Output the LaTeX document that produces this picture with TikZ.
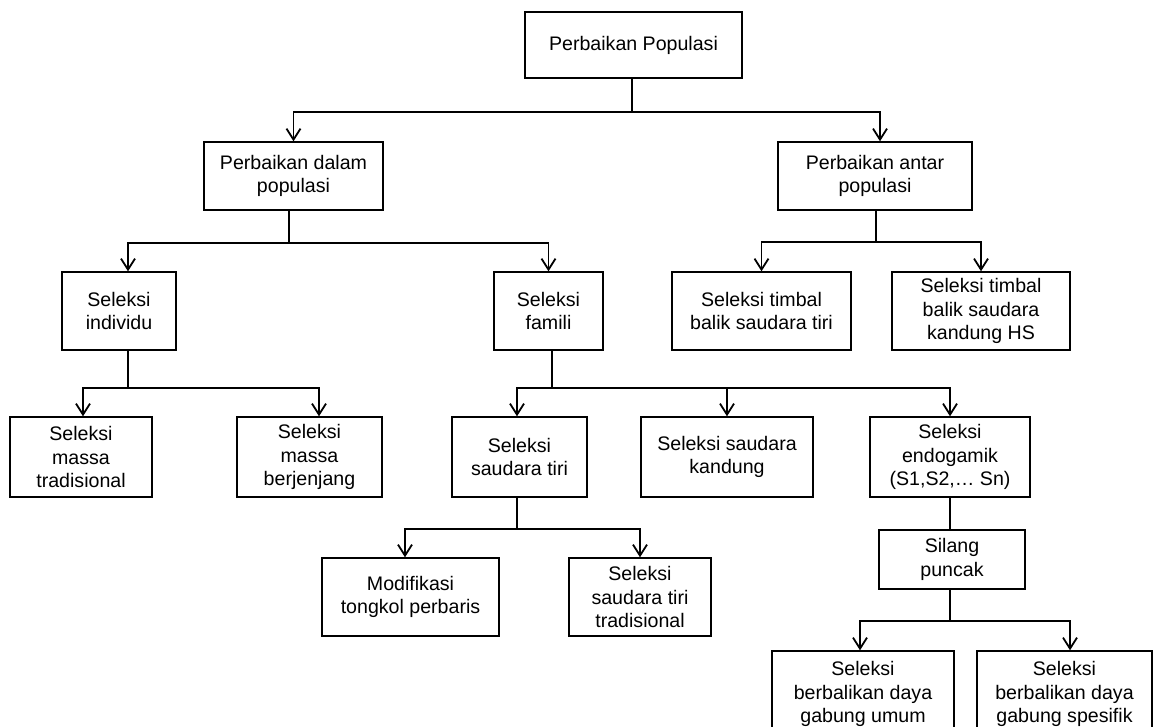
\documentclass[tikz,border=0pt]{standalone}
\usepackage{fontspec}
\setmainfont{Liberation Sans}
\usepackage{tikz}
\usetikzlibrary{arrows.meta}

\begin{document}
\begin{tikzpicture}[x=0.5pt,y=-0.5pt,line width=0.7pt,
  box/.style={draw,align=center,inner sep=0pt,font=\fontsize{9.8}{11.9}\selectfont},
  sz/.style 2 args={minimum width=#1,minimum height=#2},
  arr/.style={-{Straight Barb[length=5.5pt,width=7pt,line width=0.9pt]}}]
\useasboundingbox (0,0) rectangle (1156,727);
% boxes
\node [box,sz={108.5pt}{33pt}] (top) at (633.5,45) {Perbaikan Populasi};
\node [box,sz={89.5pt}{34pt}] (dalam) at (293.5,176) {Perbaikan dalam\\populasi};
\node [box,sz={97pt}{34pt}] (antar) at (875,176) {Perbaikan antar\\populasi};
\node [box,sz={57pt}{39pt}] (indiv) at (119,311) {Seleksi\\individu};
\node [box,sz={54.5pt}{39pt}] (famili) at (548.5,311) {Seleksi\\famili};
\node [box,sz={89.5pt}{39pt}] (tbtiri) at (761.5,311) {Seleksi timbal\\balik saudara tiri};
\node [box,sz={89pt}{39pt}] (tbhs) at (981,311) {Seleksi timbal\\balik saudara\\kandung HS};
\node [box,sz={71pt}{40pt}] (mtrad) at (81,457) {Seleksi\\massa\\tradisional};
\node [box,sz={72.5pt}{40pt}] (mjenj) at (309.5,457) {Seleksi\\massa\\berjenjang};
\node [box,sz={67.5pt}{40pt}] (stiri) at (519.5,457) {Seleksi\\saudara tiri};
\node [box,sz={86pt}{40pt}] (skand) at (727,457) {Seleksi saudara\\kandung};
\node [box,sz={80pt}{40pt}] (endo) at (950,457) {Seleksi\\endogamik\\(S1,S2,\dots\ Sn)};
\node [box,sz={88.5pt}{39pt}] (modif) at (410.5,597) {Modifikasi\\tongkol perbaris};
\node [box,sz={71pt}{39pt}] (sttrad) at (640,597) {Seleksi\\saudara tiri\\tradisional};
\node [box,sz={73pt}{29.5pt}] (silang) at (952,559.5) {Silang\\puncak};
\node [box,sz={91pt}{43pt}] (bgu) at (863,694) {Seleksi\\berbalikan daya\\gabung umum};
\node [box,sz={87.5pt}{43pt}] (bgs) at (1064.5,694) {Seleksi\\berbalikan daya\\gabung spesifik};
% junctions
\coordinate (j0) at (632,112);
\coordinate (j1) at (289,243);
\coordinate (j2) at (876,242);
\coordinate (j3) at (128,388);
\coordinate (j4) at (552,388);
\coordinate (j5) at (517,529);
\coordinate (j6) at (950,621);
% connectors
\draw (top.south -| j0) -- (j0);
\draw [arr] (j0) -| (dalam.north);
\draw [arr] (j0) -| ([xshift=2.5pt]antar.north);
\draw (dalam.south -| j1) -- (j1);
\draw [arr] (j1) -| ([xshift=4.5pt]indiv.north);
\draw [arr] (j1) -| (famili.north);
\draw (antar.south -| j2) -- (j2);
\draw [arr] (j2) -| (tbtiri.north);
\draw [arr] (j2) -| (tbhs.north);
\draw (indiv.south -| j3) -- (j3);
\draw [arr] (j3) -| ([xshift=1pt]mtrad.north);
\draw [arr] (j3) -| ([xshift=4.75pt]mjenj.north);
\draw (famili.south -| j4) -- (j4);
\draw [arr] (j4) -| ([xshift=-1.25pt]stiri.north);
\draw [arr] (j4) -| (skand.north);
\draw [arr] (j4) -| (endo.north);
\draw (stiri.south -| j5) -- (j5);
\draw [arr] (j5) -| ([xshift=-2.75pt]modif.north);
\draw [arr] (j5) -| (sttrad.north);
\draw (endo.south) -- (endo.south |- silang.north);
\draw (silang.south -| j6) -- (j6);
\draw [arr] (j6) -| ([xshift=-1.5pt]bgu.north);
\draw [arr] (j6) -| ([xshift=2.75pt]bgs.north);
\end{tikzpicture}
\end{document}
